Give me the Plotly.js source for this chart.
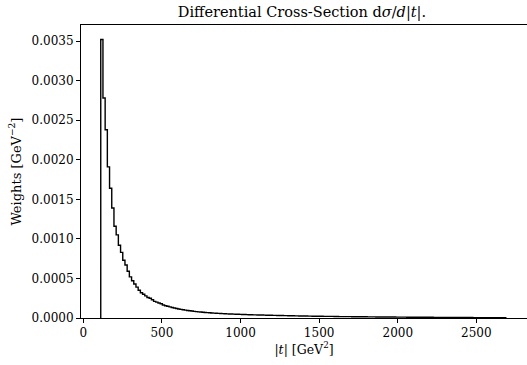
<!DOCTYPE html>
<html>
<head>
<meta charset="utf-8">
<script src="https://cdn.plot.ly/plotly-3.0.1.min.js"></script>
<style>html,body{margin:0;padding:0;background:#fff;}#chart{width:527px;height:365px;}</style>
</head>
<body>
<div id="chart"></div>
<script>
// Histogram of |t| (GeV^2): first bin edge, bin width, and bin heights (weights, GeV^-2)
const binStart = 111;
const binWidth = 14;
const weights = [
  0.00352, 0.00278, 0.00238, 0.00191, 0.00164, 0.00139, 0.00116, 0.00105, 0.00092, 0.00083,
  0.00073, 0.00067, 0.00059, 0.00052, 0.00047, 0.00043, 0.00039, 0.00035, 0.00032, 0.00030,
  0.00028, 0.00026, 0.00025, 0.00023, 0.00021, 0.00020, 0.00019, 0.00018, 0.000165, 0.000155,
  0.000148, 0.00014, 0.000133, 0.000127, 0.00012, 0.000114, 0.000109, 0.000104, 0.000099, 0.000095,
  0.000092, 0.000088, 0.000084, 0.000081, 0.000078, 0.000075, 0.000073, 0.00007, 0.000068, 0.000066,
  0.000064, 0.000062, 0.00006, 0.000058, 0.000057, 0.000055, 0.000054, 0.000052, 0.000051, 0.00005,
  0.000049, 0.000048, 0.000047, 0.000046, 0.000045, 0.000044, 0.000043, 0.000042, 0.000041, 0.00004,
  0.000039, 0.000038, 0.000038, 0.000037, 0.000036, 0.000035, 0.000035, 0.000034, 0.000033, 0.000033,
  0.000032, 0.000031, 0.000031, 0.00003, 0.00003, 0.000029, 0.000028, 0.000028, 0.000027, 0.000027,
  0.000026, 0.000026, 0.000025, 0.000025, 0.000024, 0.000024, 0.000023, 0.000023, 0.000022, 0.000022,
  0.000022, 0.000021, 0.000021, 0.00002, 0.00002, 0.00002, 0.000019, 0.000019, 0.000018, 0.000018,
  0.000018, 0.000017, 0.000017, 0.000017, 0.000016, 0.000016, 0.000016, 0.000015, 0.000015, 0.000015,
  0.000015, 0.000014, 0.000014, 0.000014, 0.000014, 0.000013, 0.000013, 0.000013, 0.000013, 0.000012,
  0.000012, 0.000012, 0.000012, 0.000012, 0.000011, 0.000011, 0.000011, 0.000011, 0.000011, 0.00001,
  0.00001, 0.00001, 0.00001, 0.00001, 0.00001, 0.000009, 0.000009, 0.000009, 0.000009, 0.000009,
  0.000009, 0.000008, 0.000008, 0.000008, 0.000008, 0.000008, 0.000008, 0.000007, 0.000007, 0.000007,
  0.000007, 0.000007, 0.000007, 0.000006, 0.000006, 0.000006, 0.000006, 0.000006, 0.000006, 0.000005,
  0.000005, 0.000005, 0.000005, 0.000005, 0.000005, 0.000005, 0.000004, 0.000004, 0.000004, 0.000004,
  0.000004, 0.000004, 0.000004, 0.000004
];
const xTicks = [0, 500, 1000, 1500, 2000, 2500];
const yTicks = [0, 0.0005, 0.0010, 0.0015, 0.0020, 0.0025, 0.0030, 0.0035];

// Build step outline (like matplotlib histtype='step')
const xs = [binStart];
const ys = [0];
for (let i = 0; i < weights.length; i++) {
  xs.push(binStart + i * binWidth);
  ys.push(weights[i]);
}
const binEnd = binStart + weights.length * binWidth;
xs.push(binEnd); ys.push(weights[weights.length - 1]);
xs.push(binEnd); ys.push(0);

const font = 'DejaVu Serif, Liberation Serif, serif';
const data = [{
  type: 'scatter', mode: 'lines', x: xs, y: ys,
  line: {color: '#000', width: 1.4, shape: 'hv'},
  hoverinfo: 'skip', cliponaxis: false
}];
const layout = {
  width: 527, height: 365,
  margin: {l: 81, r: 0, t: 25, b: 47},
  paper_bgcolor: '#fff', plot_bgcolor: '#fff',
  showlegend: false,
  font: {family: font, color: '#000', size: 12},
  title: {text: 'Differential Cross-Section d<i>σ</i>/<i>d</i>|<i>t</i>|.', x: 0.573, xanchor: 'center', y: 0.967, yanchor: 'middle', font: {family: font, size: 14.5, color: '#000'}},
  xaxis: {
    range: [-14.6, 2822], tickvals: xTicks, ticktext: xTicks.map(String),
    ticks: 'outside', ticklen: 4, tickwidth: 1, tickcolor: '#000',
    showline: true, linecolor: '#000', linewidth: 1, mirror: true,
    showgrid: false, zeroline: false,
    title: {text: '|<i>t</i>| [GeV<sup>2</sup>]', standoff: 4, font: {family: font, size: 12.5}}
  },
  yaxis: {
    range: [0, 0.003703], tickvals: yTicks, ticktext: yTicks.map(v => v.toFixed(4)),
    ticks: 'outside', ticklen: 4, tickwidth: 1, tickcolor: '#000',
    showline: true, linecolor: '#000', linewidth: 1, mirror: false,
    showgrid: false, zeroline: false,
    title: {text: 'Weights [GeV<sup>−2</sup>]', standoff: 7, font: {family: font, size: 13}}
  }
};
Plotly.newPlot('chart', data, layout, {staticPlot: true, displayModeBar: false});
</script>
</body>
</html>
